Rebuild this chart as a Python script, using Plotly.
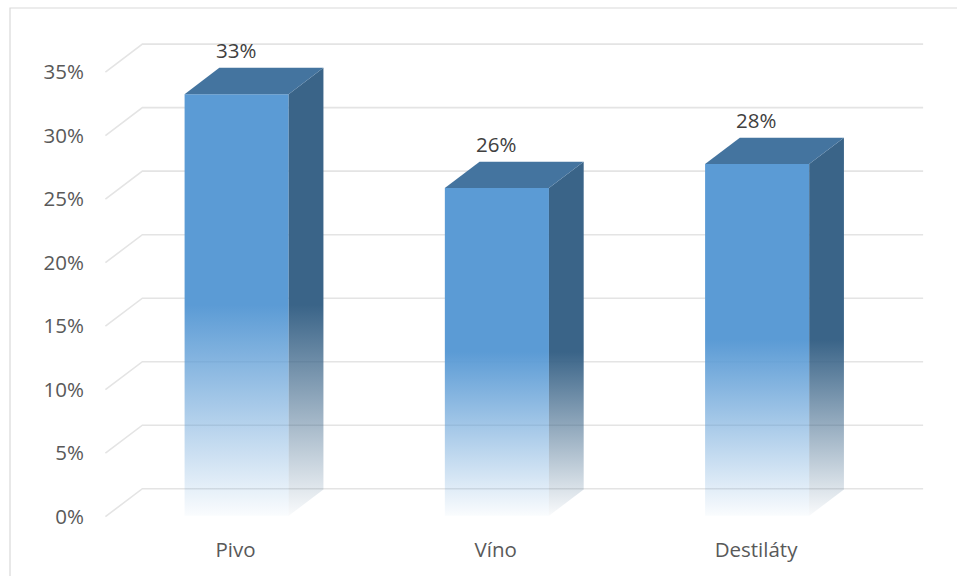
import plotly.graph_objects as go

# Share of respondents by drink type
categories = ["Pivo", "Víno", "Destiláty"]
shares = [0.332, 0.258, 0.277]

tick_values = [0.0, 0.05, 0.10, 0.15, 0.20, 0.25, 0.30, 0.35]
tick_labels = ["0%", "5%", "10%", "15%", "20%", "25%", "30%", "35%"]

# Oblique 3-D projection: depth 0 is the front plane, depth 1 the back wall
DEPTH_X = 0.142   # horizontal shift of full depth, in category units
DEPTH_Y = 0.022   # vertical shift of full depth, in value units
BAR_HALF = 0.2    # half width of a column, in category units
BAR_D0, BAR_D1 = 0.03, 0.97

FRONT_RGB = (91, 155, 213)
SIDE_RGB = (58, 100, 136)
TOP_COLOR = "rgb(68,116,159)"
GRID_COLOR = "#E4E4E4"
FONT = "Open Sans"
FONT_SIZE = 20.5


def proj(x, y, d):
    return x + d * DEPTH_X, y + d * DEPTH_Y


def rgba(rgb, a):
    return f"rgba({rgb[0]},{rgb[1]},{rgb[2]},{a})"


def fade_scale(rgb):
    return [[0.0, rgba(rgb, 0.03)], [0.5, rgba(rgb, 1)], [1.0, rgba(rgb, 1)]]


def polygon(points):
    xs, ys = [], []
    for x, y, d in points + points[:1]:
        px, py = proj(x, y, d)
        xs.append(px)
        ys.append(py)
    return xs, ys


fig = go.Figure()

# Gridlines: short diagonal on the left wall, then across the back wall
gx, gy = [], []
n_cat = len(categories)
for v in tick_values:
    for x, d in [(-0.5, 0.0), (-0.5, 1.0), (n_cat - 0.5, 1.0)]:
        px, py = proj(x, v, d)
        gx.append(px)
        gy.append(py)
    gx.append(None)
    gy.append(None)
fig.add_trace(go.Scatter(x=gx, y=gy, mode="lines",
                         line=dict(color=GRID_COLOR, width=1.6),
                         hoverinfo="skip", showlegend=False))

no_line = dict(width=0, color="rgba(0,0,0,0)")

for i, v in enumerate(shares):
    xl, xr = i - BAR_HALF, i + BAR_HALF
    y_bottom = proj(0, 0, BAR_D0)[1]
    y_top = proj(0, v, BAR_D0)[1]

    # front face
    fx, fy = polygon([(xl, 0, BAR_D0), (xr, 0, BAR_D0), (xr, v, BAR_D0), (xl, v, BAR_D0)])
    fig.add_trace(go.Scatter(
        x=fx, y=fy, mode="lines", fill="toself", line=no_line,
        fillgradient=dict(type="vertical", start=y_bottom, stop=y_top,
                          colorscale=fade_scale(FRONT_RGB)),
        hoverinfo="skip", showlegend=False))

    # right side face
    sx, sy = polygon([(xr, 0, BAR_D0), (xr, 0, BAR_D1), (xr, v, BAR_D1), (xr, v, BAR_D0)])
    fig.add_trace(go.Scatter(
        x=sx, y=sy, mode="lines", fill="toself", line=no_line,
        fillgradient=dict(type="vertical", start=y_bottom, stop=y_top,
                          colorscale=fade_scale(SIDE_RGB)),
        hoverinfo="skip", showlegend=False))

    # top face
    tx, ty = polygon([(xl, v, BAR_D0), (xr, v, BAR_D0), (xr, v, BAR_D1), (xl, v, BAR_D1)])
    fig.add_trace(go.Scatter(
        x=tx, y=ty, mode="lines", fill="toself", line=no_line,
        fillcolor=TOP_COLOR, hoverinfo="skip", showlegend=False))

    # value label above the column
    fig.add_annotation(x=i, y=proj(0, v, BAR_D1)[1], text=f"{v:.0%}",
                       showarrow=False, yanchor="middle", yshift=18,
                       font=dict(family=FONT, size=FONT_SIZE, color="#404040"))

W, H = 957, 576
M = dict(l=95, r=24, t=34, b=53)
x_range = [-0.54, n_cat - 0.5 + DEPTH_X + 0.038]
y_range = [-0.005, 0.38]

plot_w = W - M["l"] - M["r"]
plot_h = H - M["t"] - M["b"]

# chart area frame
fig.add_shape(type="rect", xref="paper", yref="paper",
              x0=(10 - M["l"]) / plot_w, x1=1.5,
              y0=-0.5, y1=(H - M["b"] - 8) / plot_h,
              line=dict(color="#D9D9D9", width=1.2), fillcolor="rgba(0,0,0,0)",
              layer="below")

fig.update_layout(
    width=W, height=H, margin=M,
    paper_bgcolor="white", plot_bgcolor="white",
    showlegend=False,
    font=dict(family=FONT, size=FONT_SIZE, color="#595959"),
    xaxis=dict(range=x_range, tickvals=list(range(n_cat)), ticktext=categories,
               showgrid=False, zeroline=False, showline=False, ticks="",
               ticklabelstandoff=12, fixedrange=True),
    yaxis=dict(range=y_range, tickvals=tick_values, ticktext=tick_labels,
               showgrid=False, zeroline=False, showline=False, ticks="",
               ticklabelstandoff=10, fixedrange=True),
)

fig.write_html("out.html")
